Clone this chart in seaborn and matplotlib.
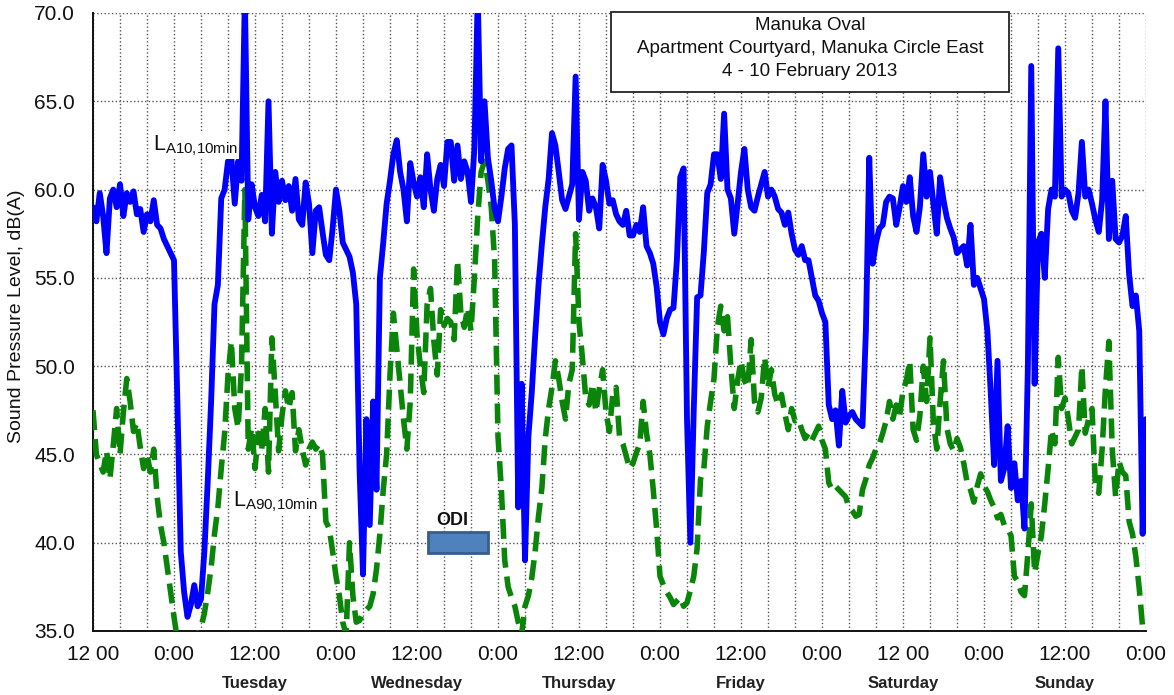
import numpy as np
import pandas as pd
import matplotlib
matplotlib.use("Agg")
import matplotlib.pyplot as plt
from matplotlib.patches import Rectangle
import seaborn as sns

# ---------------- data (30-minute readings, hours from Monday 12:00) ----------------
step_hours = 0.5
la10_values = [
    59.0, 58.2, 59.8, 58.5, 56.4, 59.5, 60.0, 59.0, 60.3, 58.5, 59.8, 59.3, 59.9, 58.6, 58.9, 57.6, 58.6, 58.2, 59.4, 58.0, 57.8, 57.2, 56.8, 56.4,
    56.0, 48.0, 39.5, 37.2, 35.8, 36.5, 37.6, 36.4, 36.8, 39.5, 43.5, 48.0, 53.5, 54.6, 59.5, 60.0, 61.6, 61.8, 59.2, 61.6, 60.5, 71.0, 58.3, 60.3,
    59.0, 58.5, 59.7, 58.2, 65.0, 57.5, 61.0, 59.3, 60.5, 59.4, 60.2, 58.8, 60.6, 58.3, 58.0, 60.4, 59.2, 56.4, 58.8, 59.0, 57.6, 56.3, 56.0, 57.8,
    60.0, 58.8, 57.0, 56.6, 56.2, 55.3, 53.5, 44.0, 38.2, 47.0, 41.0, 48.0, 43.0, 55.0, 57.0, 59.2, 60.5, 62.0, 62.8, 61.0, 60.0, 58.2, 61.5, 60.4,
    59.6, 60.7, 59.0, 62.0, 60.0, 58.8, 60.6, 61.4, 60.2, 62.7, 62.7, 60.5, 62.5, 60.6, 61.6, 61.0, 59.3, 62.3, 71.0, 61.6, 65.0, 61.8, 60.5, 58.9,
    58.2, 59.6, 61.2, 62.3, 62.5, 58.0, 42.0, 49.0, 39.0, 46.0, 48.5, 51.7, 54.6, 56.9, 59.0, 60.6, 63.2, 62.5, 61.0, 59.4, 58.9, 59.6, 60.3, 66.4,
    58.3, 61.0, 60.5, 58.8, 59.5, 59.0, 57.8, 61.4, 60.5, 59.2, 59.4, 58.6, 58.2, 58.0, 58.8, 57.4, 57.4, 58.0, 57.6, 59.0, 56.8, 56.4, 55.8, 54.5,
    52.5, 51.8, 52.7, 53.2, 53.3, 56.0, 60.7, 61.2, 47.0, 40.0, 47.5, 53.9, 54.0, 56.5, 59.8, 60.3, 62.0, 62.0, 60.6, 64.3, 60.0, 59.5, 57.5, 59.2,
    61.0, 62.3, 60.0, 59.0, 58.8, 59.6, 60.3, 61.0, 59.6, 60.0, 59.6, 58.9, 58.7, 58.0, 58.7, 57.5, 56.6, 56.3, 56.8, 56.0, 56.0, 55.0, 54.0, 53.7,
    53.0, 52.5, 47.8, 47.0, 47.5, 45.5, 48.6, 46.8, 47.2, 47.4, 47.0, 46.8, 46.6, 52.0, 61.8, 55.8, 57.0, 57.8, 58.0, 59.3, 59.6, 59.5, 58.0, 59.0,
    60.2, 59.3, 60.7, 58.5, 57.6, 59.0, 62.0, 59.6, 61.0, 59.2, 57.5, 60.7, 59.4, 58.4, 57.8, 57.3, 56.4, 56.6, 56.8, 55.7, 58.0, 54.6, 55.0, 54.4,
    53.8, 52.0, 48.5, 44.4, 50.3, 43.5, 44.2, 46.6, 43.1, 44.5, 42.4, 43.5, 40.8, 50.0, 67.0, 49.0, 57.0, 57.5, 55.0, 58.9, 60.0, 59.6, 68.0, 59.6,
    60.0, 59.8, 58.8, 58.4, 59.8, 62.7, 59.6, 60.0, 59.2, 58.3, 57.6, 59.4, 65.0, 57.2, 60.5, 57.2, 57.0, 57.4, 58.5, 55.2, 53.4, 54.0, 52.0, 40.5,
    47.0,
]
la90_values = [
    47.5, 45.0, 44.5, 44.0, 45.2, 43.6, 45.5, 47.6, 45.0, 47.4, 49.3, 48.0, 46.3, 46.8, 45.4, 44.2, 45.0, 44.0, 45.3, 42.6, 41.0, 40.0, 38.6, 37.2,
    35.8, 34.5, 34.0, 33.8, 33.5, 34.0, 34.5, 34.8, 35.2, 36.0, 37.2, 38.6, 40.5, 42.0, 44.2, 46.2, 49.5, 51.4, 47.6, 46.5, 50.0, 60.0, 45.3, 46.5,
    44.2, 46.2, 45.3, 47.6, 44.0, 51.6, 48.5, 45.2, 47.2, 48.6, 47.6, 48.5, 45.2, 46.4, 45.3, 44.4, 45.3, 45.7, 45.3, 45.6, 45.0, 41.2, 40.8, 39.5,
    38.1, 37.0, 35.5, 34.8, 40.0, 37.0, 35.5, 35.6, 36.0, 36.2, 36.4, 37.1, 38.5, 40.5, 43.0, 45.0, 49.5, 53.0, 51.0, 49.0, 47.0, 45.3, 48.0, 55.5,
    51.8, 50.0, 48.5, 53.5, 54.4, 51.4, 49.5, 53.2, 52.3, 52.7, 52.5, 51.5, 56.0, 53.0, 52.2, 53.3, 52.0, 55.0, 58.5, 61.0, 61.6, 60.5, 59.0, 56.0,
    46.0, 43.0, 39.0, 37.5, 36.9, 36.4, 35.5, 34.8, 36.4, 37.0, 38.0, 39.5, 41.5, 43.1, 45.9, 47.6, 48.8, 50.3, 49.3, 48.0, 47.0, 49.0, 49.8, 57.5,
    52.5, 50.5, 48.2, 47.8, 49.0, 47.4, 48.7, 49.8, 47.4, 46.3, 48.4, 48.8, 46.0, 45.6, 44.9, 44.2, 44.5, 45.1, 45.6, 48.0, 46.2, 45.0, 43.0, 40.8,
    38.1, 37.6, 37.2, 36.9, 36.5, 36.7, 36.9, 36.4, 36.6, 37.3, 38.1, 39.7, 43.6, 44.2, 46.6, 48.0, 49.3, 52.2, 53.4, 52.0, 52.8, 50.0, 47.6, 49.2,
    50.3, 49.2, 48.8, 51.5, 48.0, 47.4, 48.2, 50.5, 48.8, 49.8, 48.4, 47.8, 48.4, 47.3, 46.4, 47.6, 46.9, 47.0, 46.4, 45.9, 46.2, 45.8, 46.2, 46.6,
    45.8, 45.3, 43.4, 43.0, 43.2, 43.0, 42.8, 42.6, 42.0, 41.8, 41.5, 41.6, 43.0, 43.6, 44.4, 44.8, 45.3, 45.6, 46.2, 46.9, 48.0, 47.0, 47.8, 47.2,
    48.6, 49.2, 50.3, 46.4, 45.8, 47.2, 50.0, 48.0, 51.6, 46.8, 45.3, 48.0, 50.3, 46.5, 45.6, 45.2, 45.9, 45.4, 44.5, 43.4, 43.0, 42.3, 43.2, 43.9,
    43.2, 42.9, 42.4, 42.0, 41.4, 41.6, 41.0, 40.8, 40.4, 38.1, 37.8, 37.2, 37.0, 39.4, 42.2, 38.3, 39.4, 40.4, 42.2, 44.2, 46.4, 45.6, 50.5, 47.6,
    48.2, 47.0, 45.6, 46.0, 46.4, 50.0, 46.2, 47.0, 47.6, 43.3, 42.8, 45.3, 48.8, 51.4, 45.3, 42.6, 44.6, 44.0, 43.8, 41.2, 40.5, 39.2, 37.4, 35.2,
    34.5,
]
tick_labels = ["12 00", "0:00", "12:00", "0:00", "12:00", "0:00", "12:00",
               "0:00", "12:00", "0:00", "12 00", "0:00", "12:00", "0:00"]
day_names = ["Tuesday", "Wednesday", "Thursday", "Friday", "Saturday", "Sunday"]
y_ticks = [35, 40, 45, 50, 55, 60, 65, 70]
title_lines = ["Manuka Oval", "Apartment Courtyard, Manuka Circle East", "4 - 10 February 2013"]

hours = np.arange(len(la10_values)) * step_hours
df = pd.DataFrame({"hours": hours, "LA10": la10_values, "LA90": la90_values})

# ---------------- style ----------------
sns.set_theme(style="white")
plt.rcParams["font.family"] = ["Liberation Sans", "DejaVu Sans"]
plt.rcParams["mathtext.default"] = "regular"

fig = plt.figure(figsize=(11.74, 6.95), dpi=100)
ax = fig.add_axes([93 / 1174, 1 - 631 / 695, 1053 / 1174, 618 / 695])

sns.lineplot(data=df, x="hours", y="LA90", ax=ax, color="#0a850a", linewidth=4.0,
             estimator=None, sort=False, zorder=3)
sns.lineplot(data=df, x="hours", y="LA10", ax=ax, color="#0000ff", linewidth=4.2,
             estimator=None, sort=False, zorder=4)
green_line = ax.lines[0]
green_line.set_linestyle((0, (3.6, 1.6)))
green_line.set_dash_capstyle("butt")

ax.set_xlim(0, 156)
ax.set_ylim(35, 70)
ax.set_xlabel("")
ax.set_ylabel("")

# x ticks: every 4 hours, labels every 12 hours
xt = np.arange(0, 157, 4)
ax.set_xticks(xt)
lab = []
for t in xt:
    lab.append(tick_labels[int(t // 12)] if t % 12 == 0 else "")
ax.set_xticklabels(lab, fontsize=15, color="#111111")
ax.set_yticks(y_ticks)
ax.set_yticklabels([f"{v:.1f}" for v in y_ticks], fontsize=15, color="#111111")
ax.tick_params(axis="x", direction="inout", length=10, width=1.2, color="#222222", pad=5)
ax.tick_params(axis="y", direction="inout", length=12, width=1.2, color="#222222", pad=7)

ax.grid(True, linestyle=":", color="#555555", linewidth=1.0)
ax.set_axisbelow(True)
for s in ["top", "right"]:
    ax.spines[s].set_visible(False)
for s in ["left", "bottom"]:
    ax.spines[s].set_color("#111111")
    ax.spines[s].set_linewidth(1.4)

# day names under the noon ticks
for i, name in enumerate(day_names):
    ax.text(24 + 24 * i, -0.085, name, transform=ax.get_xaxis_transform(),
            ha="center", va="center", fontsize=12, fontweight="bold", color="#222222")

fig.text(17 / 1174, 1 - 316 / 695, "Sound Pressure Level, dB(A)", rotation=90,
         ha="center", va="center", fontsize=14, color="#111111")

# series labels
ax.text(0.057, 0.778, r"L$_{A10{,}10min}$", transform=ax.transAxes, fontsize=15.5,
        ha="left", va="baseline", color="#111111",
        bbox=dict(facecolor="white", edgecolor="none", pad=1), zorder=5)
ax.text(0.133, 0.201, r"L$_{A90{,}10min}$", transform=ax.transAxes, fontsize=15.5,
        ha="left", va="baseline", color="#111111",
        bbox=dict(facecolor="white", edgecolor="none", pad=1), zorder=5)

# ODI marker
ax.add_patch(Rectangle((49.6, 39.4), 8.9, 1.2, facecolor="#4f81bd", edgecolor="#385d8a",
                       linewidth=2, zorder=5))
ax.text(0.341, 0.178, "ODI", transform=ax.transAxes, fontsize=13, fontweight="bold",
        ha="center", va="center", color="#111111", zorder=6)

# title box
ax.add_patch(Rectangle((0.492, 0.872), 0.378, 0.130, transform=ax.transAxes,
                       facecolor="white", edgecolor="#222222", linewidth=1.3,
                       zorder=7, clip_on=False))
for yy, line in zip([0.979, 0.942, 0.906], title_lines):
    ax.text(0.681, yy, line, transform=ax.transAxes, ha="center", va="center",
            fontsize=13.5, color="#111111", zorder=8)

fig.savefig("out.png", dpi=100)
